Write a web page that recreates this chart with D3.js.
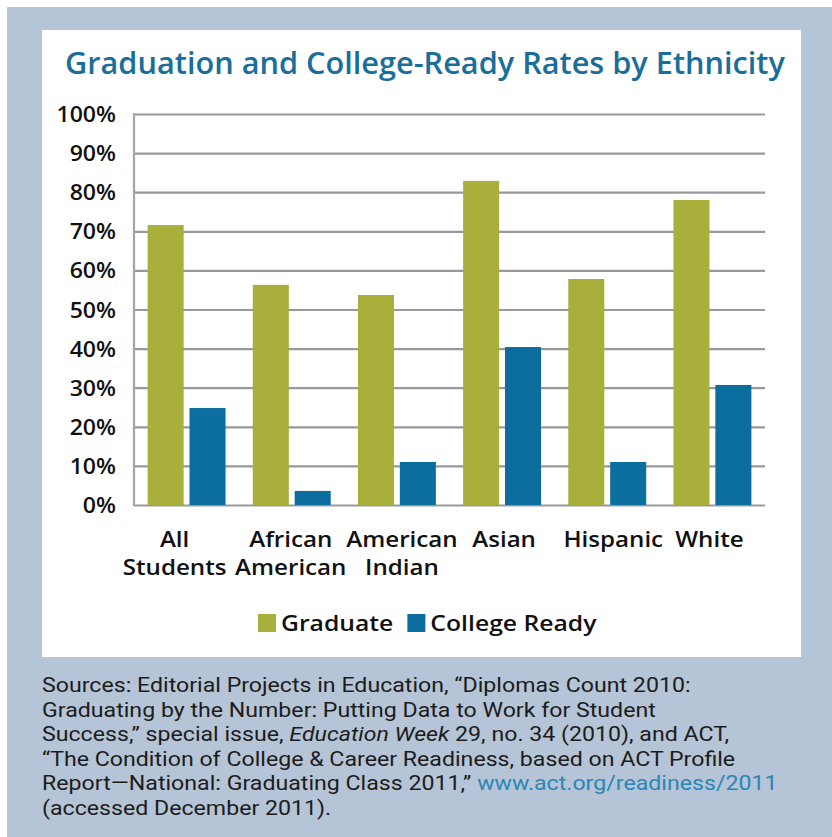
<!DOCTYPE html>
<html>
<head>
<meta charset="utf-8">
<script src="https://cdn.jsdelivr.net/npm/d3@7"></script>
<style>
  html, body { margin: 0; padding: 0; background: #ffffff; }
  svg { display: block; }
</style>
</head>
<body>
<svg id="chart" width="832" height="837"></svg>
<script>
// Rates by ethnicity (percent)
const categories = [["All", "Students"], ["African", "American"], ["American", "Indian"], ["Asian"], ["Hispanic"], ["White"]];
const seriesNames = ["Graduate", "College Ready"];
const graduate = [71.6, 56.3, 53.7, 82.9, 57.8, 78.0];
const collegeReady = [24.8, 3.6, 11.0, 40.4, 11.0, 30.7];
const yTicks = [0, 10, 20, 30, 40, 50, 60, 70, 80, 90, 100];
const titleText = "Graduation and College-Ready Rates by Ethnicity";
const sourceLines = [
  [{ t: "Sources: Editorial Projects in Education, \u201CDiplomas Count 2010:" }],
  [{ t: "Graduating by the Number: Putting Data to Work for Student" }],
  [{ t: "Success,\u201D special issue, " }, { t: "Education Week", i: true }, { t: " 29, no. 34 (2010), and ACT," }],
  [{ t: "\u201CThe Condition of College & Career Readiness, based on ACT Profile" }],
  [{ t: "Report\u2014National: Graduating Class 2011,\u201D " }, { t: "www.act.org/readiness/2011", link: true }],
  [{ t: "(accessed December 2011)." }]
];

const colors = { "Graduate": "#a8af3a", "College Ready": "#0b6e9e" };
const svg = d3.select("#chart");
const FONT = "'Open Sans', 'Noto Sans', sans-serif";
const WIDE = 1.15; // horizontal stretch for the chart's label face

// Page frame
svg.append("rect").attr("x", 7).attr("y", 7).attr("width", 825).attr("height", 830).attr("fill", "#b5c4d6");
svg.append("rect").attr("x", 42).attr("y", 30).attr("width", 759).attr("height", 627).attr("fill", "#ffffff");

// Title, sized to span its line
const title = svg.append("text")
  .attr("x", 425).attr("y", 74)
  .attr("text-anchor", "middle")
  .attr("font-family", FONT).attr("font-weight", 600)
  .attr("font-size", 26).attr("fill", "#1a6e9a")
  .text(titleText);
{
  const w = title.node().getComputedTextLength();
  title.attr("font-size", 26 * 720 / w);
}

// Plot area
const plot = { left: 134, right: 765, top: 114, bottom: 505 };
const y = d3.scaleLinear().domain([0, 100]).range([plot.bottom, plot.top]);
const x0 = d3.scaleBand().domain(d3.range(categories.length)).range([plot.left, plot.right]).paddingInner(0).paddingOuter(0);
const x1 = d3.scaleBand().domain(seriesNames).range([0, x0.bandwidth()]).paddingInner(0.14).paddingOuter(0.325);

// Gridlines and tick labels
const yAxis = d3.axisLeft(y).tickValues(yTicks).tickSize(-(plot.right - plot.left)).tickFormat(d => d + "%").tickPadding(18);
const gAxis = svg.append("g").attr("transform", `translate(${plot.left},0)`).call(yAxis);
gAxis.select(".domain").remove();
gAxis.selectAll(".tick line").attr("stroke", "#98999c").attr("stroke-width", 2.2);
gAxis.selectAll(".tick text")
  .attr("x", 0)
  .attr("transform", "translate(-18,0) scale(1.1,1)")
  .attr("font-family", FONT).attr("font-weight", 600).attr("font-size", 21)
  .attr("fill", "#111").attr("dy", "0.36em");

// Vertical axis line
svg.append("line")
  .attr("x1", plot.left).attr("x2", plot.left)
  .attr("y1", y(100) - 1).attr("y2", y(0) + 1)
  .attr("stroke", "#a3a5a8").attr("stroke-width", 2.2);

// Bars
const rows = categories.map((c, i) => ({ i, values: [graduate[i], collegeReady[i]] }));
const groups = svg.append("g").selectAll("g").data(rows).join("g")
  .attr("transform", d => `translate(${x0(d.i)},0)`);
groups.selectAll("rect")
  .data(d => d.values.map((v, k) => ({ key: seriesNames[k], value: v })))
  .join("rect")
  .attr("x", d => x1(d.key))
  .attr("width", x1.bandwidth())
  .attr("y", d => y(d.value))
  .attr("height", d => y(0) - y(d.value))
  .attr("fill", d => colors[d.key]);

// Category labels (first label nudged left so it clears its neighbour)
const labelShift = [-12, -1, 5, 2, 6, -3];
const catLabels = svg.append("g").selectAll("text").data(categories).join("text")
  .attr("transform", (d, i) => `translate(${x0(i) + x0.bandwidth() / 2 + labelShift[i]},547) scale(${WIDE},1)`)
  .attr("text-anchor", "middle")
  .attr("font-family", FONT).attr("font-weight", 600).attr("font-size", 21)
  .attr("fill", "#111");
catLabels.selectAll("tspan").data(d => d).join("tspan")
  .attr("x", 0)
  .attr("dy", (d, k) => k === 0 ? 0 : 28)
  .text(d => d);

// Legend
const legend = svg.append("g");
let lx = 258;
seriesNames.forEach(name => {
  legend.append("rect").attr("x", lx).attr("y", 614).attr("width", 18).attr("height", 18).attr("fill", colors[name]);
  const t = legend.append("text")
    .attr("transform", `translate(${lx + 23},631) scale(${WIDE},1)`)
    .attr("font-family", FONT).attr("font-weight", 600).attr("font-size", 21.5)
    .attr("fill", "#111").text(name);
  lx += 23 + t.node().getComputedTextLength() * WIDE + 14;
});

// Source note, squeezed horizontally so its longest line spans the panel
const srcFont = "'Roboto', 'Liberation Sans', sans-serif";
const src = svg.append("g");
const lines = src.selectAll("text").data(sourceLines).join("text")
  .attr("x", 0)
  .attr("y", (d, i) => 692 + i * 24.6)
  .attr("font-family", srcFont).attr("font-weight", 400)
  .attr("font-size", 20).attr("fill", "#1c1c1c");
lines.selectAll("tspan").data(d => d).join("tspan")
  .attr("font-style", d => d.i ? "italic" : null)
  .attr("fill", d => d.link ? "#2b86b6" : null)
  .text(d => d.t);
{
  const w = lines.filter((d, i) => i === 4).node().getComputedTextLength();
  src.attr("transform", `translate(42,0) scale(${736 / w},1)`);
}
</script>
</body>
</html>
